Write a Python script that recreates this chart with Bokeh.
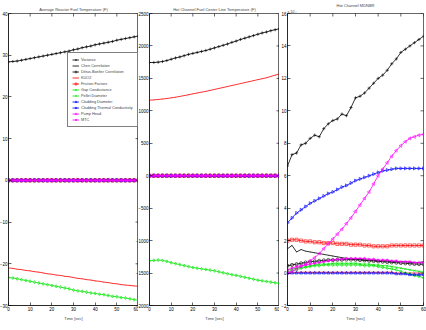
import math
from bokeh.plotting import figure
from bokeh.layouts import row
from bokeh.models import FixedTicker, Range1d, Legend, LegendItem, Title
from bokeh.embed import file_html
from bokeh.resources import INLINE

# ---------------- data ----------------
time_s = [0, 2, 4, 6, 8, 10, 12, 14, 16, 18, 20, 22, 24, 26, 28, 30,
          32, 34, 36, 38, 40, 42, 44, 46, 48, 50, 52, 54, 56, 58, 60]

series_names = ["Variance", "Chen Correlation", "Dittus-Boelter Correlation", "KUO2",
                "Friction Factors", "Gap Conductance", "Pellet Diameter", "Cladding Diameter",
                "Cladding Thermal Conductivity", "Pump Head", "MTC"]

flat_zero = [0, 0, 0, 0, 0, 0, 0, 0, 0, 0, 0, 0, 0, 0, 0, 0,
             0, 0, 0, 0, 0, 0, 0, 0, 0, 0, 0, 0, 0, 0, 0]

# Panel 1: Average Reactor Fuel Temperature (F)
p1_variance = [28.4, 28.5, 28.6, 28.8, 29.0, 29.2, 29.4, 29.6, 29.8, 30.0, 30.2, 30.4, 30.6, 30.8, 31.0, 31.3,
               31.5, 31.8, 32.0, 32.2, 32.5, 32.7, 32.9, 33.1, 33.3, 33.6, 33.8, 34.0, 34.2, 34.4, 34.6]
p1_kuo2 = [-21.0, -21.1, -21.3, -21.4, -21.6, -21.7, -21.9, -22.0, -22.2, -22.4, -22.5, -22.7, -22.8, -23.0, -23.1, -23.3,
           -23.5, -23.6, -23.8, -23.9, -24.1, -24.2, -24.4, -24.5, -24.7, -24.8, -25.0, -25.1, -25.2, -25.3, -25.4]
p1_gap = [-23.3, -23.4, -23.6, -23.8, -24.0, -24.2, -24.4, -24.6, -24.8, -25.0, -25.2, -25.4, -25.6, -25.8, -26.0, -26.3,
          -26.5, -26.6, -26.8, -27.0, -27.1, -27.3, -27.4, -27.6, -27.8, -27.9, -28.1, -28.2, -28.4, -28.6, -28.8]

# Panel 2: Hot Channel Fuel Center Line Temperature (F)
p2_variance = [1745, 1745, 1750, 1760, 1775, 1795, 1815, 1830, 1850, 1870, 1885, 1900, 1915, 1930, 1950, 1970,
               1990, 2010, 2030, 2055, 2075, 2100, 2120, 2140, 2160, 2180, 2200, 2215, 2235, 2250, 2265]
p2_kuo2 = [1165, 1168, 1175, 1182, 1190, 1200, 1210, 1222, 1235, 1248, 1262, 1275, 1288, 1300, 1315, 1330,
           1345, 1360, 1375, 1390, 1405, 1420, 1435, 1450, 1465, 1480, 1495, 1510, 1530, 1550, 1570]
p2_gap = [-1310, -1305, -1300, -1305, -1320, -1340, -1355, -1370, -1385, -1400, -1415, -1425, -1435, -1445, -1455, -1465,
          -1480, -1495, -1510, -1525, -1535, -1550, -1565, -1580, -1595, -1610, -1620, -1630, -1640, -1650, -1660]

# Panel 3: Hot Channel MDNBR (x 10^-3)
p3_variance = [6.6, 7.3, 7.4, 7.9, 8.0, 8.3, 8.5, 8.4, 8.9, 9.2, 9.4, 9.5, 9.8, 9.7, 10.2, 10.8,
               10.9, 11.1, 11.4, 11.7, 12.0, 12.2, 12.5, 12.9, 13.2, 13.6, 13.8, 14.0, 14.2, 14.4, 14.6]
p3_chen = [1.5, 1.7, 1.3, 1.45, 1.35, 1.3, 1.25, 1.2, 1.15, 1.1, 1.05, 1.0, 0.95, 0.9, 0.9, 0.85,
           0.85, 0.8, 0.8, 0.8, 0.75, 0.75, 0.75, 0.7, 0.7, 0.7, 0.7, 0.65, 0.65, 0.65, 0.7]
p3_dittus = [0.45, 0.5, 0.55, 0.6, 0.65, 0.7, 0.72, 0.75, 0.78, 0.8, 0.8, 0.82, 0.82, 0.83, 0.83, 0.82,
             0.8, 0.78, 0.76, 0.74, 0.72, 0.7, 0.68, 0.66, 0.64, 0.62, 0.6, 0.58, 0.56, 0.55, 0.55]
p3_kuo2 = [0.05, 0.05, 0.05, 0.05, 0.05, 0.05, 0.05, 0.05, 0.05, 0.05, 0.05, 0.05, 0.05, 0.05, 0.05, 0.05,
           0.05, 0.05, 0.05, 0.05, 0.05, 0.05, 0.05, 0.05, 0.0, 0.0, 0.0, 0.0, 0.0, 0.0, 0.0]
p3_friction = [2.0, 2.05, 2.05, 2.0, 1.95, 1.95, 1.9, 1.9, 1.85, 1.85, 1.85, 1.8, 1.8, 1.8, 1.75, 1.75,
               1.75, 1.7, 1.7, 1.65, 1.65, 1.65, 1.65, 1.7, 1.7, 1.7, 1.7, 1.7, 1.7, 1.7, 1.7]
p3_gap = [0.1, 0.15, 0.2, 0.3, 0.35, 0.4, 0.45, 0.45, 0.5, 0.5, 0.5, 0.5, 0.5, 0.5, 0.5, 0.5,
          0.5, 0.45, 0.45, 0.45, 0.4, 0.35, 0.3, 0.25, 0.2, 0.1, 0.0, -0.05, -0.15, -0.2, -0.3]
p3_pellet = [0.2, 0.25, 0.3, 0.35, 0.4, 0.45, 0.5, 0.55, 0.55, 0.55, 0.6, 0.6, 0.6, 0.6, 0.6, 0.6,
             0.55, 0.55, 0.55, 0.5, 0.5, 0.45, 0.45, 0.4, 0.35, 0.3, 0.25, 0.2, 0.15, 0.1, 0.05]
p3_clad_diam = [3.1, 3.4, 3.7, 3.9, 4.1, 4.3, 4.45, 4.6, 4.75, 4.9, 5.0, 5.15, 5.3, 5.4, 5.55, 5.7,
                5.8, 5.9, 6.0, 6.1, 6.2, 6.3, 6.35, 6.4, 6.45, 6.45, 6.45, 6.45, 6.45, 6.45, 6.45]
p3_clad_therm = [0.0, 0.0, 0.0, 0.0, 0.0, 0.0, 0.0, 0.0, 0.0, 0.0, 0.0, 0.0, 0.0, 0.0, 0.0, 0.0,
                 0.0, 0.0, 0.0, 0.0, 0.0, 0.0, 0.0, 0.0, -0.05, -0.05, -0.05, -0.1, -0.1, -0.1, -0.1]
p3_pump = [0.0, 0.1, 0.25, 0.4, 0.55, 0.75, 0.95, 1.2, 1.5, 1.8, 2.1, 2.4, 2.7, 3.05, 3.4, 3.8,
           4.2, 4.6, 5.0, 5.5, 6.0, 6.4, 6.8, 7.2, 7.55, 7.85, 8.1, 8.3, 8.4, 8.5, 8.55]
p3_mtc = [0.2, 0.3, 0.4, 0.45, 0.5, 0.55, 0.6, 0.65, 0.7, 0.75, 0.8, 0.85, 0.85, 0.9, 0.9, 0.9,
          0.9, 0.9, 0.85, 0.85, 0.8, 0.8, 0.8, 0.75, 0.75, 0.7, 0.7, 0.7, 0.65, 0.65, 0.65]

panel1 = [p1_variance, flat_zero, flat_zero, p1_kuo2, flat_zero, p1_gap, flat_zero,
          flat_zero, flat_zero, flat_zero, flat_zero]
panel2 = [p2_variance, flat_zero, flat_zero, p2_kuo2, flat_zero, p2_gap, flat_zero,
          flat_zero, flat_zero, flat_zero, flat_zero]
panel3 = [p3_variance, p3_chen, p3_dittus, p3_kuo2, p3_friction, p3_gap, p3_pellet,
          p3_clad_diam, p3_clad_therm, p3_pump, p3_mtc]

x_ticks = [0, 10, 20, 30, 40, 50, 60]
p1_yticks = [-30, -20, -10, 0, 10, 20, 30, 40]
p2_yticks = [-2000, -1500, -1000, -500, 0, 500, 1000, 1500, 2000, 2500]
p3_yticks = [-2, 0, 2, 4, 6, 8, 10, 12, 14, 16]

# styles (color, marker, angle)
styles = [
    ("#000000", "cross", 0.0),
    ("#000000", "dot", 0.0),
    ("#000000", "circle", 0.0),
    ("#ff0000", "dot", 0.0),
    ("#ff0000", "square", 0.0),
    ("#00e600", "diamond", 0.0),
    ("#00e600", "x", 0.0),
    ("#0000ff", "triangle", -math.pi / 2),
    ("#0000ff", "triangle", 0.0),
    ("#ff00ff", "triangle", math.pi / 2),
    ("#ff00ff", "asterisk", 0.0),
]

FONT = "Liberation Sans"
LEFT_BORDER = 20


def style_axis(ax, ticks):
    ax.ticker = FixedTicker(ticks=ticks)
    ax.major_tick_in = 3
    ax.major_tick_out = 0
    ax.minor_tick_in = 0
    ax.minor_tick_out = 0
    ax.axis_line_color = "black"
    ax.axis_line_width = 0.6
    ax.major_tick_line_color = "black"
    ax.major_tick_line_width = 0.6
    ax.major_label_text_font = FONT
    ax.major_label_text_color = "black"
    ax.major_label_text_font_size = "4.5px"
    ax.major_label_standoff = 1


def make_panel(frame_w, right, shift, y_lo, y_hi, yticks, title, data, title_standoff=3):
    p = figure(width=LEFT_BORDER + frame_w + right, height=330,
               x_range=Range1d(0, 60), y_range=Range1d(y_lo, y_hi),
               output_backend="svg", toolbar_location=None,
               min_border_left=LEFT_BORDER, min_border_right=right,
               min_border_top=12, min_border_bottom=25,
               margin=(0, 0, 0, shift))
    p.title.text = title
    p.title.text_font = FONT
    p.title.text_font_size = "4px"
    p.title.text_font_style = "normal"
    p.title.align = "center"
    p.title.standoff = title_standoff
    p.xgrid.visible = False
    p.ygrid.visible = False
    p.outline_line_color = "black"
    p.outline_line_width = 0.6
    p.background_fill_color = "white"
    p.border_fill_alpha = 0.0

    style_axis(p.xaxis[0], x_ticks)
    style_axis(p.yaxis[0], yticks)
    p.xaxis[0].axis_label = "Time [sec]"
    p.xaxis[0].axis_label_text_font = FONT
    p.xaxis[0].axis_label_text_font_size = "4px"
    p.xaxis[0].axis_label_text_font_style = "normal"
    p.xaxis[0].axis_label_standoff = 2

    items = []
    for name, ys, (col, mk, ang) in zip(series_names, data, styles):
        r_line = p.line(time_s, ys, line_color=col, line_width=0.8)
        r_mk = p.scatter(time_s, ys, marker=mk, size=3.2, angle=ang,
                         line_color=col, line_width=0.6, fill_color=None)
        items.append(LegendItem(label=name, renderers=[r_line, r_mk]))

    # inward tick marks on the right and top edges of the box (MATLAB style)
    x_end = time_s[-1]
    p.scatter([x_end] * len(yticks), yticks, marker="dash", size=6,
              line_color="black", line_width=0.6)
    p.scatter(x_ticks, [y_hi] * len(x_ticks), marker="dash", size=6, angle=math.pi / 2,
              line_color="black", line_width=0.6)
    return p, items


# figures overlap slightly (negative left margins) so that the three frames sit
# at the same places as in the reference while the tick labels keep room
f1, items1 = make_panel(130, 0, -12, -30, 40, p1_yticks,
                        "Average Reactor Fuel Temperature (F)", panel1)
f2, _ = make_panel(130, 0, -9, -2000, 2500, p2_yticks,
                   "Hot Channel Fuel Center Line Temperature (F)", panel2)
f3, _ = make_panel(136, 3, -12, -2, 16, p3_yticks, "Hot Channel MDNBR", panel3,
                   title_standoff=0)

f3.add_layout(Title(text="x 10\u207b\u00b3", align="left", text_font=FONT,
                    text_font_size="3.6px", text_font_style="normal", standoff=0), "above")

legend = Legend(items=items1, location=(59, 178))
legend.label_text_font = FONT
legend.label_text_font_size = "3.8px"
legend.glyph_width = 7
legend.glyph_height = 5
legend.label_height = 5
legend.label_standoff = 2
legend.spacing = 1
legend.padding = 4
legend.margin = 0
legend.border_line_color = "black"
legend.border_line_width = 0.6
legend.background_fill_color = "white"
legend.background_fill_alpha = 1.0
f1.add_layout(legend)

layout = row(f1, f2, f3, spacing=0)
open("out.html", "w").write(file_html(layout, INLINE))
